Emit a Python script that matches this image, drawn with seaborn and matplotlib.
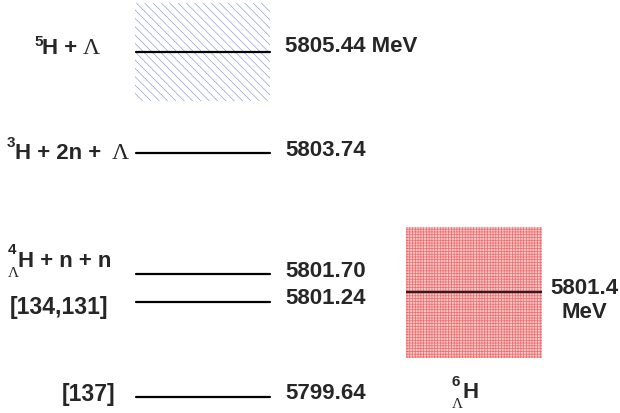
import matplotlib
matplotlib.use("Agg")
import pandas as pd
import seaborn as sns
from matplotlib import pyplot as plt

# energy levels on the left (MeV)
level_energy = [5805.44, 5803.74, 5801.70, 5801.24, 5799.64]
level_value_text = ["5805.44 MeV", "5803.74", "5801.70", "5801.24", "5799.64"]
# half height of the hatched 5H + Lambda band (MeV)
band_halfwidth = 0.82

# 6/Lambda H measurement
h6_energy = 5801.4
h6_error = 1.1
h6_value_text = ["5801.4", "MeV"]

sns.set_theme(style="white")
plt.rcParams["font.family"] = ["Liberation Sans", "DejaVu Sans"]
plt.rcParams["hatch.linewidth"] = 0.5

fig = plt.figure(figsize=(6.2, 4.14), dpi=100)
ax = fig.add_axes([0, 0, 1, 1])
ax.set_xlim(0, 620)
ax.set_ylim(5799.37, 5806.33)
ax.axis("off")

# hatched band around the 5H + Lambda threshold
ax.bar(202.5, 2 * band_halfwidth, width=135, bottom=level_energy[0] - band_halfwidth,
       color="white", edgecolor="#8ea2de", hatch="\\\\\\\\", linewidth=0, zorder=1)

# red band of the 6/Lambda H result
ax.bar(474, 2 * h6_error, width=136, bottom=h6_energy - h6_error,
       color="#f9c8c8", edgecolor="#f06a6a", hatch="++++++", linewidth=0, zorder=1)

# level lines drawn through seaborn
rows = []
for i, e in enumerate(level_energy):
    rows.append({"level": i, "x": 136, "energy": e})
    rows.append({"level": i, "x": 270, "energy": e})
df = pd.DataFrame(rows)
sns.lineplot(data=df, x="x", y="energy", units="level", estimator=None,
             color="black", linewidth=1.6, ax=ax, zorder=3)
ax.hlines(h6_energy, 406, 542, color="#222222", linewidth=1.6, zorder=3)
ax.set_xlabel("")
ax.set_ylabel("")


def put(x, e, dy, s, size=16, ha="left", family=None, weight="bold"):
    kw = {}
    if family is not None:
        kw["family"] = family
    ax.annotate(s, xy=(x, e), xytext=(0, dy), textcoords="offset pixels",
                fontsize=size, fontweight=weight, va="baseline", ha=ha, **kw)


# value labels next to the lines
value_dy = [1, -2, -2, -1, -1]
for e, s, dy in zip(level_energy, level_value_text, value_dy):
    put(285, e, dy, s)

serif = ["Liberation Serif", "DejaVu Serif"]

# 5H + Lambda
e = level_energy[0]
put(34, e, 7, "5", size=11)
put(42, e, -1, "H +")
put(83, e, -1, "\u039b", size=17, family=serif, weight="normal")

# 3H + 2n + Lambda
e = level_energy[1]
put(7, e, 7, "3", size=11)
put(15, e, -5, "H + 2n +")
put(112, e, -5, "\u039b", size=17, family=serif, weight="normal")

# 4/Lambda H + n + n
e = level_energy[2]
put(8, e, 21, "4", size=11)
put(8, e, -2, "\u039b", size=11, family=serif, weight="normal")
put(18, e, 8, "H + n + n")

# references
put(10, level_energy[3], -11, "[134,131]", size=16.5)
put(62, level_energy[4], -3, "[137]", size=16.5)

# 6/Lambda H
put(584, h6_energy, -1, h6_value_text[0], ha="center")
put(584, h6_energy, -25, h6_value_text[1], ha="center")
put(452, h6_energy, -93, "6", size=11)
put(463, h6_energy, -105, "H")
put(452, h6_energy, -115, "\u039b", size=11, family=serif, weight="normal")

fig.savefig("out.png", dpi=100)
